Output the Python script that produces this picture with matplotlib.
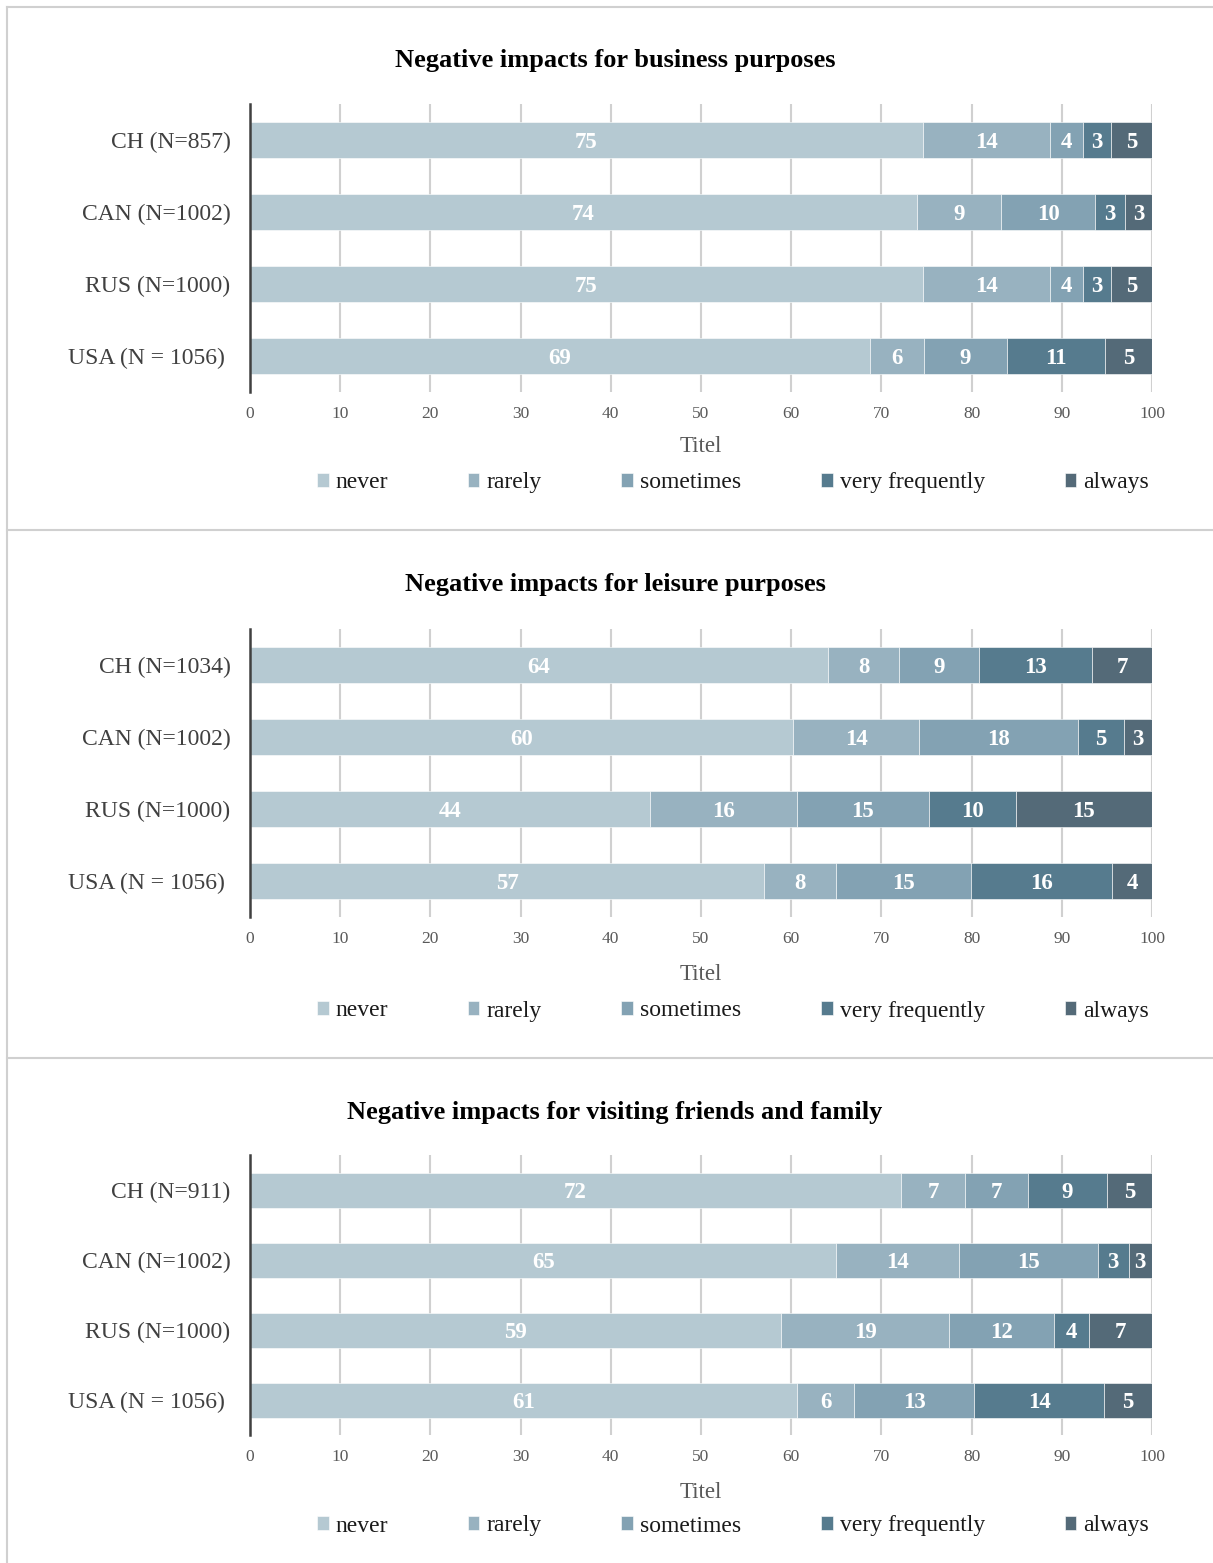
import numpy as np
import matplotlib.pyplot as plt
from matplotlib.lines import Line2D

plt.rcParams['font.family'] = ['Liberation Serif', 'DejaVu Serif']

# answer categories and their fill colours
levels = ['never', 'rarely', 'sometimes', 'very frequently', 'always']
colors = ['#b5c9d2', '#98b2c0', '#83a2b3', '#567b8e', '#546a78']

titles = ['Negative impacts for business purposes',
          'Negative impacts for leisure purposes',
          'Negative impacts for visiting friends and family']

countries_business = ['CH (N=857)', 'CAN (N=1002)', 'RUS (N=1000)', 'USA (N = 1056) ']
countries_leisure = ['CH (N=1034)', 'CAN (N=1002)', 'RUS (N=1000)', 'USA (N = 1056) ']
countries_vfr = ['CH (N=911)', 'CAN (N=1002)', 'RUS (N=1000)', 'USA (N = 1056) ']

# percent shares per country, columns follow `levels`
business = [[74.6, 14.1, 3.6, 3.1, 4.6],
            [73.9, 9.4, 10.4, 3.3, 3.0],
            [74.6, 14.1, 3.6, 3.1, 4.6],
            [68.7, 6.0, 9.2, 10.9, 5.2]]
leisure = [[64.1, 7.9, 8.8, 12.6, 6.6],
           [60.2, 14.0, 17.6, 5.1, 3.1],
           [44.4, 16.2, 14.7, 9.6, 15.1],
           [57.0, 8.0, 14.9, 15.7, 4.4]]
vfr = [[72.2, 7.1, 6.9, 8.8, 5.0],
       [65.0, 13.6, 15.4, 3.4, 2.6],
       [58.9, 18.6, 11.6, 3.9, 7.0],
       [60.6, 6.4, 13.3, 14.4, 5.3]]

panels = [(titles[0], countries_business, business),
          (titles[1], countries_leisure, leisure),
          (titles[2], countries_vfr, vfr)]

W, H = 1213, 1563
fig = plt.figure(figsize=(W / 100, H / 100), dpi=100)

def fx(px):
    return px / W

def fy(py):
    return 1 - py / H

# pixel layout of each panel: axes top/bottom, title, axis title, legend rows
layout = [dict(top=104, bottom=392, title=61, xlab=447, leg=483),
          dict(top=629, bottom=917, title=585, xlab=974, leg=1011),
          dict(top=1155, bottom=1435, title=1112, xlab=1492, leg=1526)]

x0, x1 = 250, 1152

for (title, cats, data), lay in zip(panels, layout):
    ax = fig.add_axes([fx(x0), fy(lay['bottom']), fx(x1 - x0),
                       (lay['bottom'] - lay['top']) / H])
    vals = np.array(data)
    y = np.arange(len(cats))
    left = np.zeros(len(cats))
    for j, lev in enumerate(levels):
        bars = ax.barh(y, vals[:, j], left=left, height=0.5, color=colors[j],
                       edgecolor='white', linewidth=0.4, label=lev, zorder=2)
        txts = ax.bar_label(bars, fmt='%.0f', label_type='center', color='white',
                            fontsize=16.5, fontweight='bold')
        for t in txts:
            t.set_va('center_baseline')
        left += vals[:, j]

    ax.set_xlim(0, 100)
    ax.set_ylim(len(cats) - 0.5, -0.5)
    ax.set_xticks(np.arange(0, 101, 10))
    ax.set_yticks(y)
    ax.set_yticklabels(cats, fontsize=17, color='#404040')
    ax.tick_params(axis='y', length=0, pad=14)
    ax.tick_params(axis='x', length=0, pad=10, labelsize=12.5, labelcolor='#595959')
    ax.grid(axis='x', color='#d0d0d0', linewidth=1.5, zorder=0)
    ax.set_axisbelow(True)
    for side in ['top', 'right', 'bottom']:
        ax.spines[side].set_visible(False)
    ax.spines['left'].set_color('#404040')
    ax.spines['left'].set_linewidth(1.8)
    ax.spines['left'].set_zorder(3)

    fig.text(fx(615), fy(lay['title']), title, ha='center', va='center',
             fontsize=19, fontweight='bold', color='black')
    fig.text(fx((x0 + x1) / 2), fy(lay['xlab']), 'Titel', ha='center',
             va='center', fontsize=16.5, color='#595959')

    handles, labels = ax.get_legend_handles_labels()
    fig.legend(handles, labels, loc='center', ncol=5,
               bbox_to_anchor=(fx(733), fy(lay['leg'])), frameon=False,
               fontsize=17, handlelength=0.5, handleheight=0.5,
               handletextpad=0.3, columnspacing=3.37, labelcolor='#1a1a1a')

# chart frames
border = '#d0d0d0'
fig.add_artist(Line2D([fx(7), 1], [fy(7), fy(7)], color=border, lw=1.5))
fig.add_artist(Line2D([fx(7), fx(7)], [fy(7), 0], color=border, lw=1.5))
for py in [530, 1058]:
    fig.add_artist(Line2D([fx(7), 1], [fy(py), fy(py)], color=border, lw=1.5))

fig.savefig('out.png', dpi=100, facecolor='white')
